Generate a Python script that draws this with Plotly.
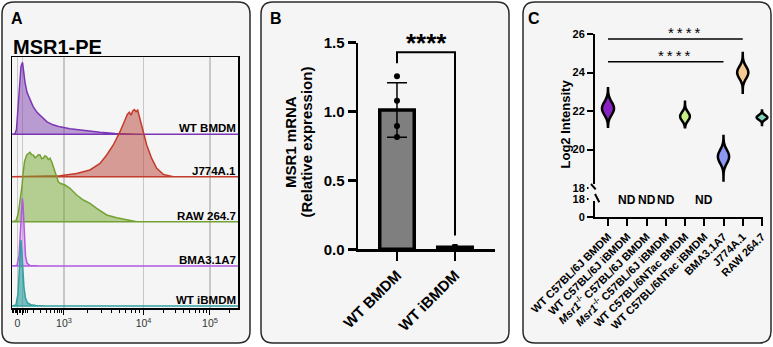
import math
import statistics
import plotly.graph_objects as go

W, H = 773, 347
FONT = "Liberation Sans, Arial, Helvetica, sans-serif"


def fx(p):
    return p / W


def fy(p):
    return 1 - p / H


# ---------------- Panel A : MSR1-PE flow histograms ----------------
hist_labels = ["WT BMDM", "J774A.1", "RAW 264.7", "BMA3.1A7", "WT iBMDM"]
# x = position on the biexponential display scale (0-1000), y = % of mode
wt_bmdm_x = [0, 13.3, 19.9, 26.5, 33.2, 39.8, 46.5, 50.9, 57.5, 66.4, 79.6, 92.9, 110.6,
             132.7, 154.9, 181.4, 212.4, 256.6, 323.0, 389.4, 455.8, 522.1, 566.4, 1000]
wt_bmdm_y = [0, 0.7, 7.1, 42.9, 78.6, 97.1, 102.9, 91.4, 74.3, 60, 48.6, 40, 31.4,
             24.3, 17.9, 13.6, 10.7, 7.9, 5, 2.9, 1.1, 0.3, 0, 0]
j774_x = [0, 137.2, 212.4, 286.3, 345.1, 389.4, 419.0, 448.2, 477.9, 500.0, 510.2, 519.0, 526.5,
          534.1, 541.1, 548.7, 556.2, 563.3, 581.0, 596.0, 618.1, 640.3, 669.5, 713.7, 1000]
j774_y = [0, 0.4, 1.4, 4.7, 9.6, 19, 31, 45.3, 64.3, 81, 89, 92, 88,
          94, 96, 93, 95, 86, 64.3, 45.3, 26.1, 11.9, 3.3, 0, 0]
raw_x = [0, 17.7, 27.9, 35.4, 43.8, 50, 55.3, 65, 72.1, 79.6, 87.2, 94.2, 101.8, 109.3, 116.4,
         123.9, 131.4, 138.5, 146, 153.5, 160.6, 168.1, 175.7, 182.7, 190.3, 197.8, 204.9,
         212.4, 234.5, 256.6, 286.3, 315.5, 345.1, 374.8, 419, 463.3, 507.5, 551.8, 1000]
raw_y = [0, 1.4, 12, 28.6, 50, 71.4, 85.7, 95.3, 97.1, 99.1, 95.7, 95.3, 91.4, 92.9, 95.7,
         95.3, 90, 90.6, 94.3, 92.9, 88.6, 90.6, 85.7, 78.6, 68.6, 62, 57.1,
         54.9, 52.4, 47.7, 38.1, 31, 26.3, 19.1, 9.6, 5.7, 2.4, 0, 0]
bma_x = [0, 22.1, 31, 37.6, 42, 45.6, 48.7, 50.9, 55.3, 59.7, 66.4, 79.6, 123.9, 1000]
bma_y = [0, 0.7, 14.3, 57.1, 85.7, 96.7, 88.6, 71.4, 35.7, 14.3, 4.3, 0.7, 0, 0]
ibmdm_x = [0, 17.7, 26.5, 31.9, 36.7, 39.8, 43.4, 47.8, 53.1, 59.7, 68.6, 84.1, 106.2, 146, 1000]
ibmdm_y = [0, 1.4, 17.1, 57.1, 91.4, 94.3, 78.6, 50, 25.7, 11.4, 4.3, 1.7, 0.6, 0, 0]

axisA_labels = ["0", "", "10<sup>3</sup>", "10<sup>4</sup>", "10<sup>5</sup>"]
axisA_label_pos = [24.3, 45.6, 230, 582, 876]

# ---------------- Panel B : MSR1 mRNA ----------------
b_groups = ["WT BMDM", "WT iBMDM"]
b_bmdm_reps = [1.256, 1.079, 0.895, 0.815]
b_ibmdm_reps = [0.012, 0.020, 0.016, 0.010]
b_sig = "****"

# ---------------- Panel C : proteomics Log2 intensity ----------------
c_categories = ["WT C57BL/6J BMDM", "WT C57BL/6J iBMDM",
                "<i>Msr1</i><sup>-/-</sup> C57BL/6J BMDM",
                "<i>Msr1</i><sup>-/-</sup> C57BL/6J iBMDM",
                "WT C57BL/6NTac BMDM", "WT C57BL/6NTac iBMDM",
                "BMA3.1A7", "J774A.1", "RAW 264.7"]
c_replicates = [[21.95, 22.12, 22.35], None, None, None, [21.6, 21.72, 21.84], None,
                [19.4, 19.63, 19.86], [23.8, 24.0, 24.2], [21.6, 21.67, 21.74]]
c_extent = [(21.18, 23.18), None, None, None, (21.15, 22.48), None,
            (18.33, 20.7), (22.95, 25.08), (21.27, 22.02)]
c_sig_pairs = [(0, 7), (0, 6)]
c_sig_text = "*\u2009*\u2009*\u2009*"

# ---------------- styles / layout ----------------
baselines = [248.1, 187.6, 123.3, 60.0, 2.9]
lineA = ['#7b35b5', '#c43b2b', '#73a232', '#b15ae0', '#32a0a0']
fillA = ['rgba(125,65,175,0.5)', 'rgba(185,65,55,0.5)', 'rgba(115,165,45,0.5)',
         'rgba(205,145,235,0.5)', 'rgba(37,153,153,0.6)']
c_colors = ['#8a22c2', None, None, None, '#c8ef86', None, '#8c98f2', '#f6c993', '#7fd4bf']
c_bw = [0.28, None, None, None, 0.2, None, 0.27, 0.25, 0.1]
c_width = [0.62, None, None, None, 0.5, None, 0.58, 0.58, 0.56]
c_sig_levels = [25.74, 24.56]

fig = go.Figure()

hists = [(wt_bmdm_x, wt_bmdm_y), (j774_x, j774_y), (raw_x, raw_y), (bma_x, bma_y), (ibmdm_x, ibmdm_y)]
for i, (xs, ys) in enumerate(hists):
    b = baselines[i]
    fig.add_trace(go.Scatter(
        x=xs + [xs[-1], xs[0]], y=[b + v for v in ys] + [b, b],
        mode='lines', fill='toself', fillcolor=fillA[i],
        line=dict(color=lineA[i], width=1.5), xaxis='x', yaxis='y',
        hoverinfo='skip', showlegend=False))

# Panel B
b_reps = [b_bmdm_reps, b_ibmdm_reps]
b_means = [statistics.mean(r) for r in b_reps]
b_sd = [statistics.stdev(r) for r in b_reps]
fig.add_trace(go.Bar(
    x=[0, 1], y=b_means, width=0.595,
    marker=dict(color='#7f7f7f', line=dict(color='black', width=3.5)),
    error_y=dict(type='data', array=b_sd, color='black', thickness=1.5, width=10),
    xaxis='x2', yaxis='y2', cliponaxis=False, hoverinfo='skip', showlegend=False))
fig.add_trace(go.Scatter(
    x=[0] * len(b_bmdm_reps), y=b_bmdm_reps, mode='markers',
    marker=dict(color='black', size=6, symbol='circle'),
    xaxis='x2', yaxis='y2', cliponaxis=False, hoverinfo='skip', showlegend=False))
fig.add_trace(go.Scatter(
    x=[1] * len(b_ibmdm_reps), y=b_ibmdm_reps, mode='markers',
    marker=dict(color='black', size=5, symbol='square'),
    xaxis='x2', yaxis='y2', cliponaxis=False, hoverinfo='skip', showlegend=False))
fig.add_trace(go.Scatter(
    x=[0, 0, 1, 1], y=[1.35, 1.43, 1.43, 0.1], mode='lines',
    line=dict(color='black', width=2), xaxis='x2', yaxis='y2',
    cliponaxis=False, hoverinfo='skip', showlegend=False))

# Panel C violins
for i, reps in enumerate(c_replicates):
    if reps is None:
        continue
    fig.add_trace(go.Violin(
        x=[i] * len(reps), y=reps, xaxis='x3', yaxis='y3',
        fillcolor=c_colors[i], line=dict(color='black', width=2.5),
        points=False, spanmode='manual', span=list(c_extent[i]),
        bandwidth=c_bw[i], width=c_width[i], scalemode='width',
        box=dict(visible=False), meanline=dict(visible=False),
        hoverinfo='skip', showlegend=False, opacity=1))
for (a, b), lev in zip(c_sig_pairs, c_sig_levels):
    fig.add_trace(go.Scatter(
        x=[a, b], y=[lev, lev], mode='lines', line=dict(color='black', width=1.5),
        xaxis='x3', yaxis='y3', cliponaxis=False, hoverinfo='skip', showlegend=False))

# minor ticks of the biexponential axis
minorA = [4.4, 8.8, 13.3, 17.7, 31, 35.4, 39.8, 48.7, 57.5, 66.4]
minorA += [230 - 196 * math.log10(10 / k) for k in range(2, 10)]
minorA += [230 + 352 * math.log10(k) for k in range(2, 10)]
minorA += [582 + 294 * math.log10(k) for k in range(2, 10)]
minorA += [876 + 294 * math.log10(k) for k in range(2, 4) if 876 + 294 * math.log10(k) < 1000]


def rrect(x0, y0, x1, y1, r):
    pts = [("M", (x0 + r, y0)), ("L", (x1 - r, y0)), ("Q", (x1, y0), (x1, y0 + r)),
           ("L", (x1, y1 - r)), ("Q", (x1, y1), (x1 - r, y1)), ("L", (x0 + r, y1)),
           ("Q", (x0, y1), (x0, y1 - r)), ("L", (x0, y0 + r)), ("Q", (x0, y0), (x0 + r, y0))]
    s = ""
    for p in pts:
        s += p[0] + " " + " ".join(f"{fx(q[0]):.5f},{fy(q[1]):.5f}" for q in p[1:]) + " "
    return s + "Z"


shapes = []
for (x0, x1) in [(2, 250), (261, 509), (523, 771)]:
    shapes.append(dict(type='path', path=rrect(x0, 2, x1, 343, 12), xref='paper', yref='paper',
                       fillcolor='#f5f5f5', line=dict(color='#2a2a2a', width=1.5), layer='below'))
# axis break in panel C
shapes.append(dict(type='rect', xref='paper', yref='paper', x0=fx(588.5), x1=fx(598.5),
                   y0=fy(201), y1=fy(184), fillcolor='#f5f5f5', line=dict(width=0), layer='above'))
# x axis of panel C stops at the last category tick
shapes.append(dict(type='rect', xref='paper', yref='paper', x0=fx(763), x1=fx(769.5),
                   y0=fy(220), y1=fy(214), fillcolor='#f5f5f5', line=dict(width=0), layer='above'))
for (xa, ya, xb, yb) in [(591, 184, 595.7, 189.3), (595, 194, 599.3, 202.3)]:
    shapes.append(dict(type='line', xref='paper', yref='paper', x0=fx(xa), y0=fy(ya),
                       x1=fx(xb), y1=fy(yb), line=dict(color='black', width=2), layer='above'))

ann = []


def txt(text, x, y, size, xanchor='center', yanchor='middle', bold=True, angle=0,
        xref='paper', yref='paper', color='black', **kw):
    ann.append(dict(text=text, x=x, y=y, xref=xref, yref=yref, showarrow=False,
                    xanchor=xanchor, yanchor=yanchor, textangle=angle,
                    font=dict(family=FONT, size=size, color=color,
                              weight='bold' if bold else 'normal'), **kw))


txt("A", fx(8.5), fy(18.5), 16, xanchor='left')
txt("B", fx(267.5), fy(18.5), 16, xanchor='left')
txt("C", fx(525.5), fy(18.5), 16, xanchor='left')
txt("MSR1-PE", fx(10.5), fy(47), 20, xanchor='left')
for lab, b in zip(hist_labels, baselines):
    txt(lab, 1000, b, 11.5, xanchor='right', yanchor='bottom', xref='x', yref='y',
        xshift=-1, yshift=-1, borderpad=0)
txt("MSR1 mRNA", fx(290), fy(142), 15, angle=-90)
txt("(Relative expression)", fx(305.5), fy(142), 15, angle=-90)
txt(b_sig, fx(426), fy(43.5), 26)
for i, reps in enumerate(c_replicates):
    if reps is None:
        txt("ND", i, 16.5, 12, xref='x3', yref='y4')
txt(c_sig_text, fx(684), fy(32.5), 15, bold=False)
txt(c_sig_text, fx(674.5), fy(55), 15, bold=False)
txt("Log2 Intensity", fx(565), fy(124.5), 13, angle=-90)

boldtick = lambda s: dict(family=FONT, size=s, color='black', weight='bold')

# panel C x axis: 19.25 px per category, first category 13 px right of the y axis
c_px0, c_px1 = 595, 769
c_step = 19.25
c_lo = -(608 - c_px0) / c_step
c_hi = c_lo + (c_px1 - c_px0) / c_step

fig.update_layout(
    width=W, height=H, margin=dict(l=0, r=0, t=0, b=0, pad=0, autoexpand=False),
    paper_bgcolor='white', plot_bgcolor='rgba(0,0,0,0)',
    showlegend=False, violinmode='overlay', bargap=0,
    shapes=shapes, annotations=ann,
    xaxis=dict(domain=[fx(12), fx(238)], range=[0, 1000], anchor='y', automargin=False,
               showline=True, mirror=True, linecolor='black', linewidth=1.5,
               ticks='outside', ticklen=5, tickwidth=1, tickcolor='black',
               tickmode='array', tickvals=axisA_label_pos, ticktext=axisA_labels,
               tickfont=dict(family=FONT, size=10.5, color='#333'),
               showgrid=True, gridcolor='#c8c8c8', gridwidth=1.5, zeroline=False,
               minor=dict(ticks='outside', ticklen=3, tickwidth=1, tickcolor='black',
                          tickmode='array', tickvals=minorA, showgrid=False)),
    yaxis=dict(domain=[fy(308), fy(57)], range=[0, 358.6], anchor='x', automargin=False,
               showline=True, mirror=True, linecolor='black', linewidth=1.5,
               showticklabels=False, ticks='', showgrid=False, zeroline=False),
    xaxis2=dict(domain=[fx(358), fx(495)], range=[-0.672, 1.69], anchor='y2', automargin=False,
                showline=True, linecolor='black', linewidth=2.5,
                ticks='outside', ticklen=9, tickwidth=2.5, tickcolor='black',
                tickmode='array', tickvals=[0, 1], ticktext=b_groups, tickangle=-45,
                tickfont=boldtick(15), showgrid=False, zeroline=False),
    yaxis2=dict(domain=[fy(249.3), fy(42.7)], range=[0, 1.5], anchor='x2', automargin=False,
                showline=True, linecolor='black', linewidth=2.5,
                ticks='outside', ticklen=8, tickwidth=2.5, tickcolor='black',
                tickmode='array', tickvals=[0, 0.5, 1.0, 1.5], ticktext=['0.0', '0.5', '1.0', '1.5'],
                tickfont=boldtick(15), showgrid=False, zeroline=False),
    xaxis3=dict(domain=[fx(c_px0), fx(c_px1)], range=[c_lo, c_hi], anchor='y4', type='linear',
                automargin=False,
                showline=True, linecolor='black', linewidth=2,
                ticks='outside', ticklen=7, tickwidth=2, tickcolor='black',
                tickmode='array', tickvals=list(range(len(c_categories))), ticktext=c_categories,
                tickangle=-45, tickfont=boldtick(11), showgrid=False, zeroline=False),
    yaxis3=dict(domain=[fy(188), fy(34)], range=[18, 26], anchor='x3', automargin=False,
                showline=True, linecolor='black', linewidth=2,
                ticks='outside', ticklen=6, tickwidth=2, tickcolor='black',
                tickmode='array', tickvals=[18, 20, 22, 24, 26],
                tickfont=boldtick(11), showgrid=False, zeroline=False),
    yaxis4=dict(domain=[fy(217), fy(199)], range=[0, 18], anchor='x3', automargin=False,
                showline=True, linecolor='black', linewidth=2,
                ticks='outside', ticklen=6, tickwidth=2, tickcolor='black',
                tickmode='array', tickvals=[0, 18],
                tickfont=boldtick(11), showgrid=False, zeroline=False),
)

fig.write_html("out.html", config={'displayModeBar': False, 'staticPlot': True},
               post_script="document.body.style.margin='0px';document.body.style.padding='0px';")
